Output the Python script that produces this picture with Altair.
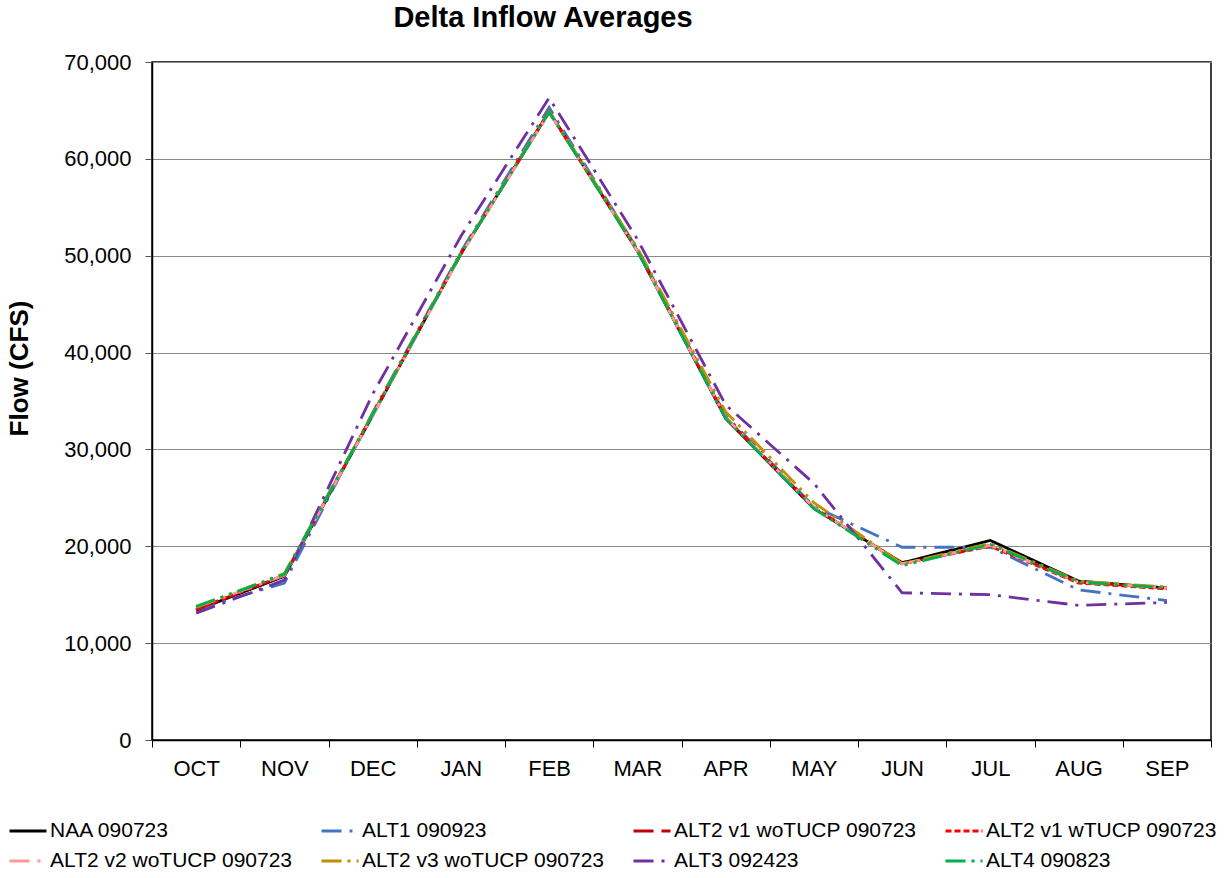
import altair as alt
import pandas as pd

# Monthly average Delta inflow (cfs) for each study scenario
months = ["OCT", "NOV", "DEC", "JAN", "FEB", "MAR", "APR", "MAY", "JUN", "JUL", "AUG", "SEP"]

series_names = [
    "NAA 090723",
    "ALT1 090923",
    "ALT2 v1 woTUCP 090723",
    "ALT2 v1 wTUCP 090723",
    "ALT2 v2 woTUCP 090723",
    "ALT2 v3 woTUCP 090723",
    "ALT3 092423",
    "ALT4 090823",
]

naa = [13400, 16900, 33500, 50200, 64900, 50500, 33200, 23900, 18300, 20600, 16400, 15700]
alt1 = [13500, 16200, 33800, 50400, 65300, 50700, 33500, 24100, 19900, 19900, 15500, 14400]
alt2_v1_wo = [13500, 17000, 33600, 50200, 64900, 50500, 33300, 24000, 18200, 20100, 16300, 15700]
alt2_v1_w = [13500, 17000, 33600, 50200, 64800, 50600, 33300, 24000, 18200, 20000, 16200, 15600]
alt2_v2_wo = [13700, 17000, 33500, 50100, 64800, 50500, 33300, 24000, 18200, 20100, 16300, 15700]
alt2_v3_wo = [13700, 17200, 33700, 50300, 64900, 50800, 33900, 24500, 18200, 20300, 16400, 15800]
alt3 = [13100, 16500, 35700, 52000, 66300, 51700, 34600, 26500, 15200, 15000, 13900, 14200]
alt4 = [13800, 17100, 33600, 50200, 64800, 50500, 33200, 23900, 18000, 20200, 16300, 15700]

series_values = [naa, alt1, alt2_v1_wo, alt2_v1_w, alt2_v2_wo, alt2_v3_wo, alt3, alt4]

series_colors = ["#000000", "#4472C4", "#C00000", "#FF0000", "#FF9999", "#BF9000", "#7030A0", "#00B050"]
series_dashes = [
    [1, 0],
    [20, 8, 3, 8],
    [20, 8],
    [6, 3],
    [20, 8, 3, 8],
    [20, 6, 3, 6, 3, 6],
    [20, 8, 3, 8],
    [20, 6, 3, 6, 3, 6],
]

chart_title = "Delta Inflow Averages"

rows = []
for order, (name, values) in enumerate(zip(series_names, series_values)):
    for month, v in zip(months, values):
        rows.append({"Scenario": name, "Month": month, "Flow": v, "order": order})
df = pd.DataFrame(rows)

FONT = "Liberation Sans"


def scenario_legend():
    return alt.Legend(
        title=None,
        orient="none",
        legendX=-144,
        legendY=749,
        direction="horizontal",
        columns=4,
        gridAlign="all",
        columnPadding=22,
        rowPadding=-4,
        symbolType="stroke",
        symbolSize=1369,
        symbolStrokeWidth=3,
        labelFontSize=21,
        labelColor="#000",
        labelOffset=2,
        labelLimit=400,
    )


lines = (
    alt.Chart(df)
    .mark_line(strokeWidth=2.8)
    .encode(
        x=alt.X(
            "Month:N",
            sort=months,
            bandPosition=0.5,
            scale=alt.Scale(type="band", paddingInner=0, paddingOuter=0),
            axis=alt.Axis(
                title=None,
                labelAngle=0,
                labelFontSize=22,
                labelColor="#000",
                labelPadding=11,
                tickBand="extent",
                tickSize=7,
                tickColor="#000",
                domainColor="#000",
                domainWidth=1.5,
                grid=False,
            ),
        ),
        y=alt.Y(
            "Flow:Q",
            scale=alt.Scale(domain=[0, 70000], nice=False),
            axis=alt.Axis(
                title="Flow (CFS)",
                values=list(range(0, 70001, 10000)),
                format=",d",
                labelFontSize=22,
                labelColor="#000",
                labelPadding=14,
                tickSize=7,
                tickColor="#555",
                domainColor="#000",
                domainWidth=1.5,
                grid=True,
                gridColor="#8a8a8a",
                gridWidth=1.2,
                titleFontSize=26,
                titleFontWeight="bold",
                titleColor="#000",
                titleAngle=-90,
                titleX=-133,
                titleY=306,
                titleAlign="center",
                titleBaseline="middle",
            ),
        ),
        color=alt.Color(
            "Scenario:N",
            sort=series_names,
            scale=alt.Scale(domain=series_names, range=series_colors),
            legend=scenario_legend(),
        ),
        strokeDash=alt.StrokeDash(
            "Scenario:N",
            sort=series_names,
            scale=alt.Scale(domain=series_names, range=series_dashes),
            legend=scenario_legend(),
        ),
        order=alt.Order("order:Q"),
    )
)

# chart heading, set above the plot frame
heading = (
    alt.Chart(pd.DataFrame({"label": [chart_title]}))
    .mark_text(
        font=FONT,
        fontSize=29,
        fontWeight="bold",
        color="#000",
        align="center",
        baseline="alphabetic",
    )
    .encode(text="label:N", x=alt.value(391), y=alt.value(-35))
)

chart = (
    alt.layer(lines, heading)
    .properties(
        width=1059,
        height=678,
        autosize=alt.AutoSizeParams(type="none"),
        padding={"left": 152, "top": 62, "right": 14, "bottom": 138},
    )
    .configure(font=FONT)
    .configure_view(stroke="#000", strokeWidth=1.5)
    .configure_axis(labelFont=FONT, titleFont=FONT)
    .configure_legend(labelFont=FONT)
)

chart.save("out.html", embed_options={"renderer": "svg", "actions": False})
